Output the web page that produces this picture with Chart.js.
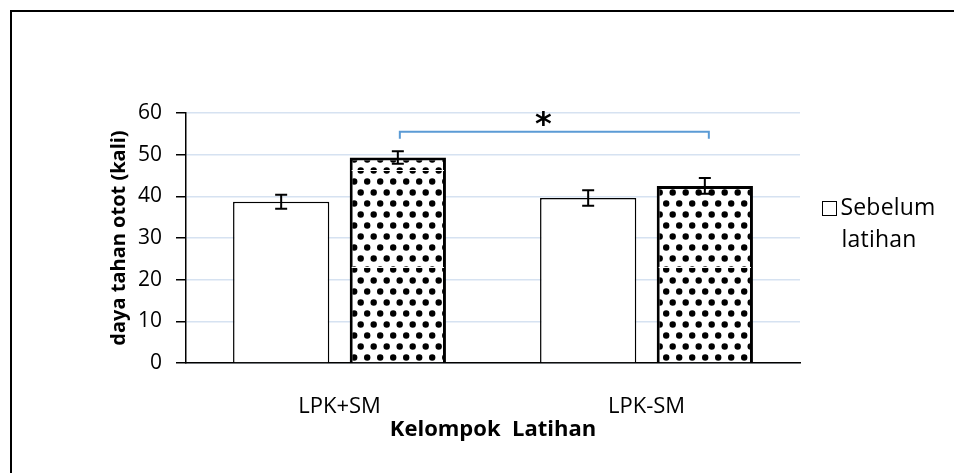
<!DOCTYPE html>
<html>
<head>
<meta charset="utf-8">
<script src="https://cdn.jsdelivr.net/npm/chart.js@4"></script>
<style>
  html, body { margin: 0; padding: 0; background: #fff; }
  #wrap { position: relative; width: 954px; height: 473px; }
  #frame { position: absolute; left: 10px; top: 10px; width: 960px; height: 480px;
           border-left: 2px solid #000; border-top: 2px solid #000; }
  #legend { position: absolute; left: 812px; top: 190px; width: 134px;
            font-family: "Open Sans", sans-serif; font-size: 23px; color: #000;
            text-align: center; line-height: 32px; letter-spacing: 0.2px; }
  #legend .box { display: inline-block; width: 13px; height: 13px; border: 1.5px solid #000;
                 vertical-align: -1px; margin-right: 3px; }
  canvas { position: absolute; left: 0; top: 0; }
</style>
</head>
<body>
<div id="wrap">
  <div id="frame"></div>
  <canvas id="chart" width="954" height="473"></canvas>
  <div id="legend"><span class="box"></span>Sebelum<br>latihan</div>
</div>
<script>
// data
const categories = ['LPK+SM', 'LPK-SM'];
const sebelum = [38.7, 39.6];
const sebelumErr = [1.7, 1.85];
const sesudah = [49.3, 42.5];
const sesudahErr = [1.5, 1.9];
const yTicks = [0, 10, 20, 30, 40, 50, 60];
const sigMark = '*';
const sigLevel = [55.5, 53.8];   // bracket top / leg bottom, in axis units
const seams = [46.4, 23.1];      // white seams visible in the dotted fill

function dotPattern(){
    let c = document.createElement('canvas');
    c.width = 13; c.height = 22;
    let g = c.getContext('2d');
    g.fillStyle = '#fff';
    g.fillRect(0, 0, 13, 22);
    g.fillStyle = '#000';
    [[3.2, 5.5], [9.7, 16.5]].forEach(p => {
        g.beginPath();
        g.arc(p[0], p[1], 3.2, 0, Math.PI * 2);
        g.fill();
    });
    return g.createPattern(c, 'repeat');
}

const extras = {
    id: 'extras',
    afterDatasetsDraw(chart){
        let ctx = chart.ctx;
        let y = chart.scales.y;
        let errs = [sebelumErr, sesudahErr];
        let vals = [sebelum, sesudah];
        ctx.save();
        // seams in the dotted bars
        ctx.strokeStyle = '#fff';
        ctx.lineWidth = 1;
        chart.getDatasetMeta(1).data.forEach((bar, i) => {
            seams.forEach(s => {
                if (s < sesudah[i] - 1){
                    let py = Math.round(y.getPixelForValue(s)) + 0.5;
                    ctx.beginPath();
                    ctx.moveTo(bar.x - bar.width / 2 + 2, py);
                    ctx.lineTo(bar.x + bar.width / 2 - 2, py);
                    ctx.stroke();
                }
            });
        });
        ctx.strokeStyle = '#000';
        ctx.lineWidth = 2;
        for (let d = 0; d < 2; d++){
            chart.getDatasetMeta(d).data.forEach((bar, i) => {
                let top = y.getPixelForValue(vals[d][i] + errs[d][i]);
                let bot = y.getPixelForValue(vals[d][i] - errs[d][i]);
                ctx.beginPath();
                ctx.moveTo(bar.x, top); ctx.lineTo(bar.x, bot);
                ctx.moveTo(bar.x - 6, top); ctx.lineTo(bar.x + 6, top);
                ctx.moveTo(bar.x - 6, bot); ctx.lineTo(bar.x + 6, bot);
                ctx.stroke();
            });
        }
        // significance bracket between the two "sesudah" bars
        let m = chart.getDatasetMeta(1).data;
        let yt = y.getPixelForValue(sigLevel[0]);
        let yb = y.getPixelForValue(sigLevel[1]);
        ctx.strokeStyle = '#5b9bd5';
        ctx.lineWidth = 2;
        ctx.beginPath();
        ctx.moveTo(m[0].x + 2, yb);
        ctx.lineTo(m[0].x + 2, yt);
        ctx.lineTo(m[1].x + 4, yt);
        ctx.lineTo(m[1].x + 4, yb);
        ctx.stroke();
        ctx.fillStyle = '#000';
        ctx.font = 'bold 32px "DejaVu Sans", sans-serif';
        ctx.textAlign = 'center';
        ctx.textBaseline = 'middle';
        ctx.fillText(sigMark, (m[0].x + m[1].x) / 2 - 8, yt - 6);
        ctx.restore();
    }
};

let ctx = document.getElementById('chart').getContext('2d');
let chart = new Chart(ctx, {
    type: 'bar',
    data: {
        labels: categories,
        datasets: [{
            label: 'Sebelum latihan',
            data: sebelum,
            backgroundColor: '#fff',
            borderColor: '#000',
            borderWidth: 1.5
        }, {
            label: 'Sesudah latihan',
            data: sesudah,
            backgroundColor: dotPattern(),
            borderColor: '#000',
            borderWidth: 3
        }]
    },
    options: {
        responsive: false,
        animation: false,
        events: [],
        categoryPercentage: 0.76,
        barPercentage: 0.825,
        layout: { padding: { left: 107, right: 154, top: 113, bottom: 30 } },
        plugins: { legend: { display: false }, tooltip: { enabled: false } },
        scales: {
            x: {
                grid: { display: false },
                border: { color: '#000', width: 1.5 },
                ticks: { color: '#000', padding: 23, font: { family: 'Open Sans', size: 22 } },
                title: { display: true, text: 'Kelompok  Latihan', color: '#000', padding: 0,
                         font: { family: 'Open Sans', size: 22, weight: 'bold' } },
                afterFit(s){ s.height = 80; }
            },
            y: {
                min: 0, max: 60,
                afterBuildTicks(s){ s.ticks = yTicks.map(v => ({ value: v })); },
                grid: { color: '#d6e2f1', lineWidth: 1.5, tickColor: '#000', tickLength: 10 },
                border: { color: '#000', width: 1.5 },
                ticks: { color: '#000', padding: 14, font: { family: 'Open Sans', size: 21 } },
                title: { display: true, text: 'daya tahan otot (kali)', color: '#000', padding: 0,
                         font: { family: 'Open Sans', size: 20, weight: 'bold' } },
                afterFit(s){ s.width = 79; }
            }
        }
    },
    plugins: [extras]
});
</script>
</body>
</html>
